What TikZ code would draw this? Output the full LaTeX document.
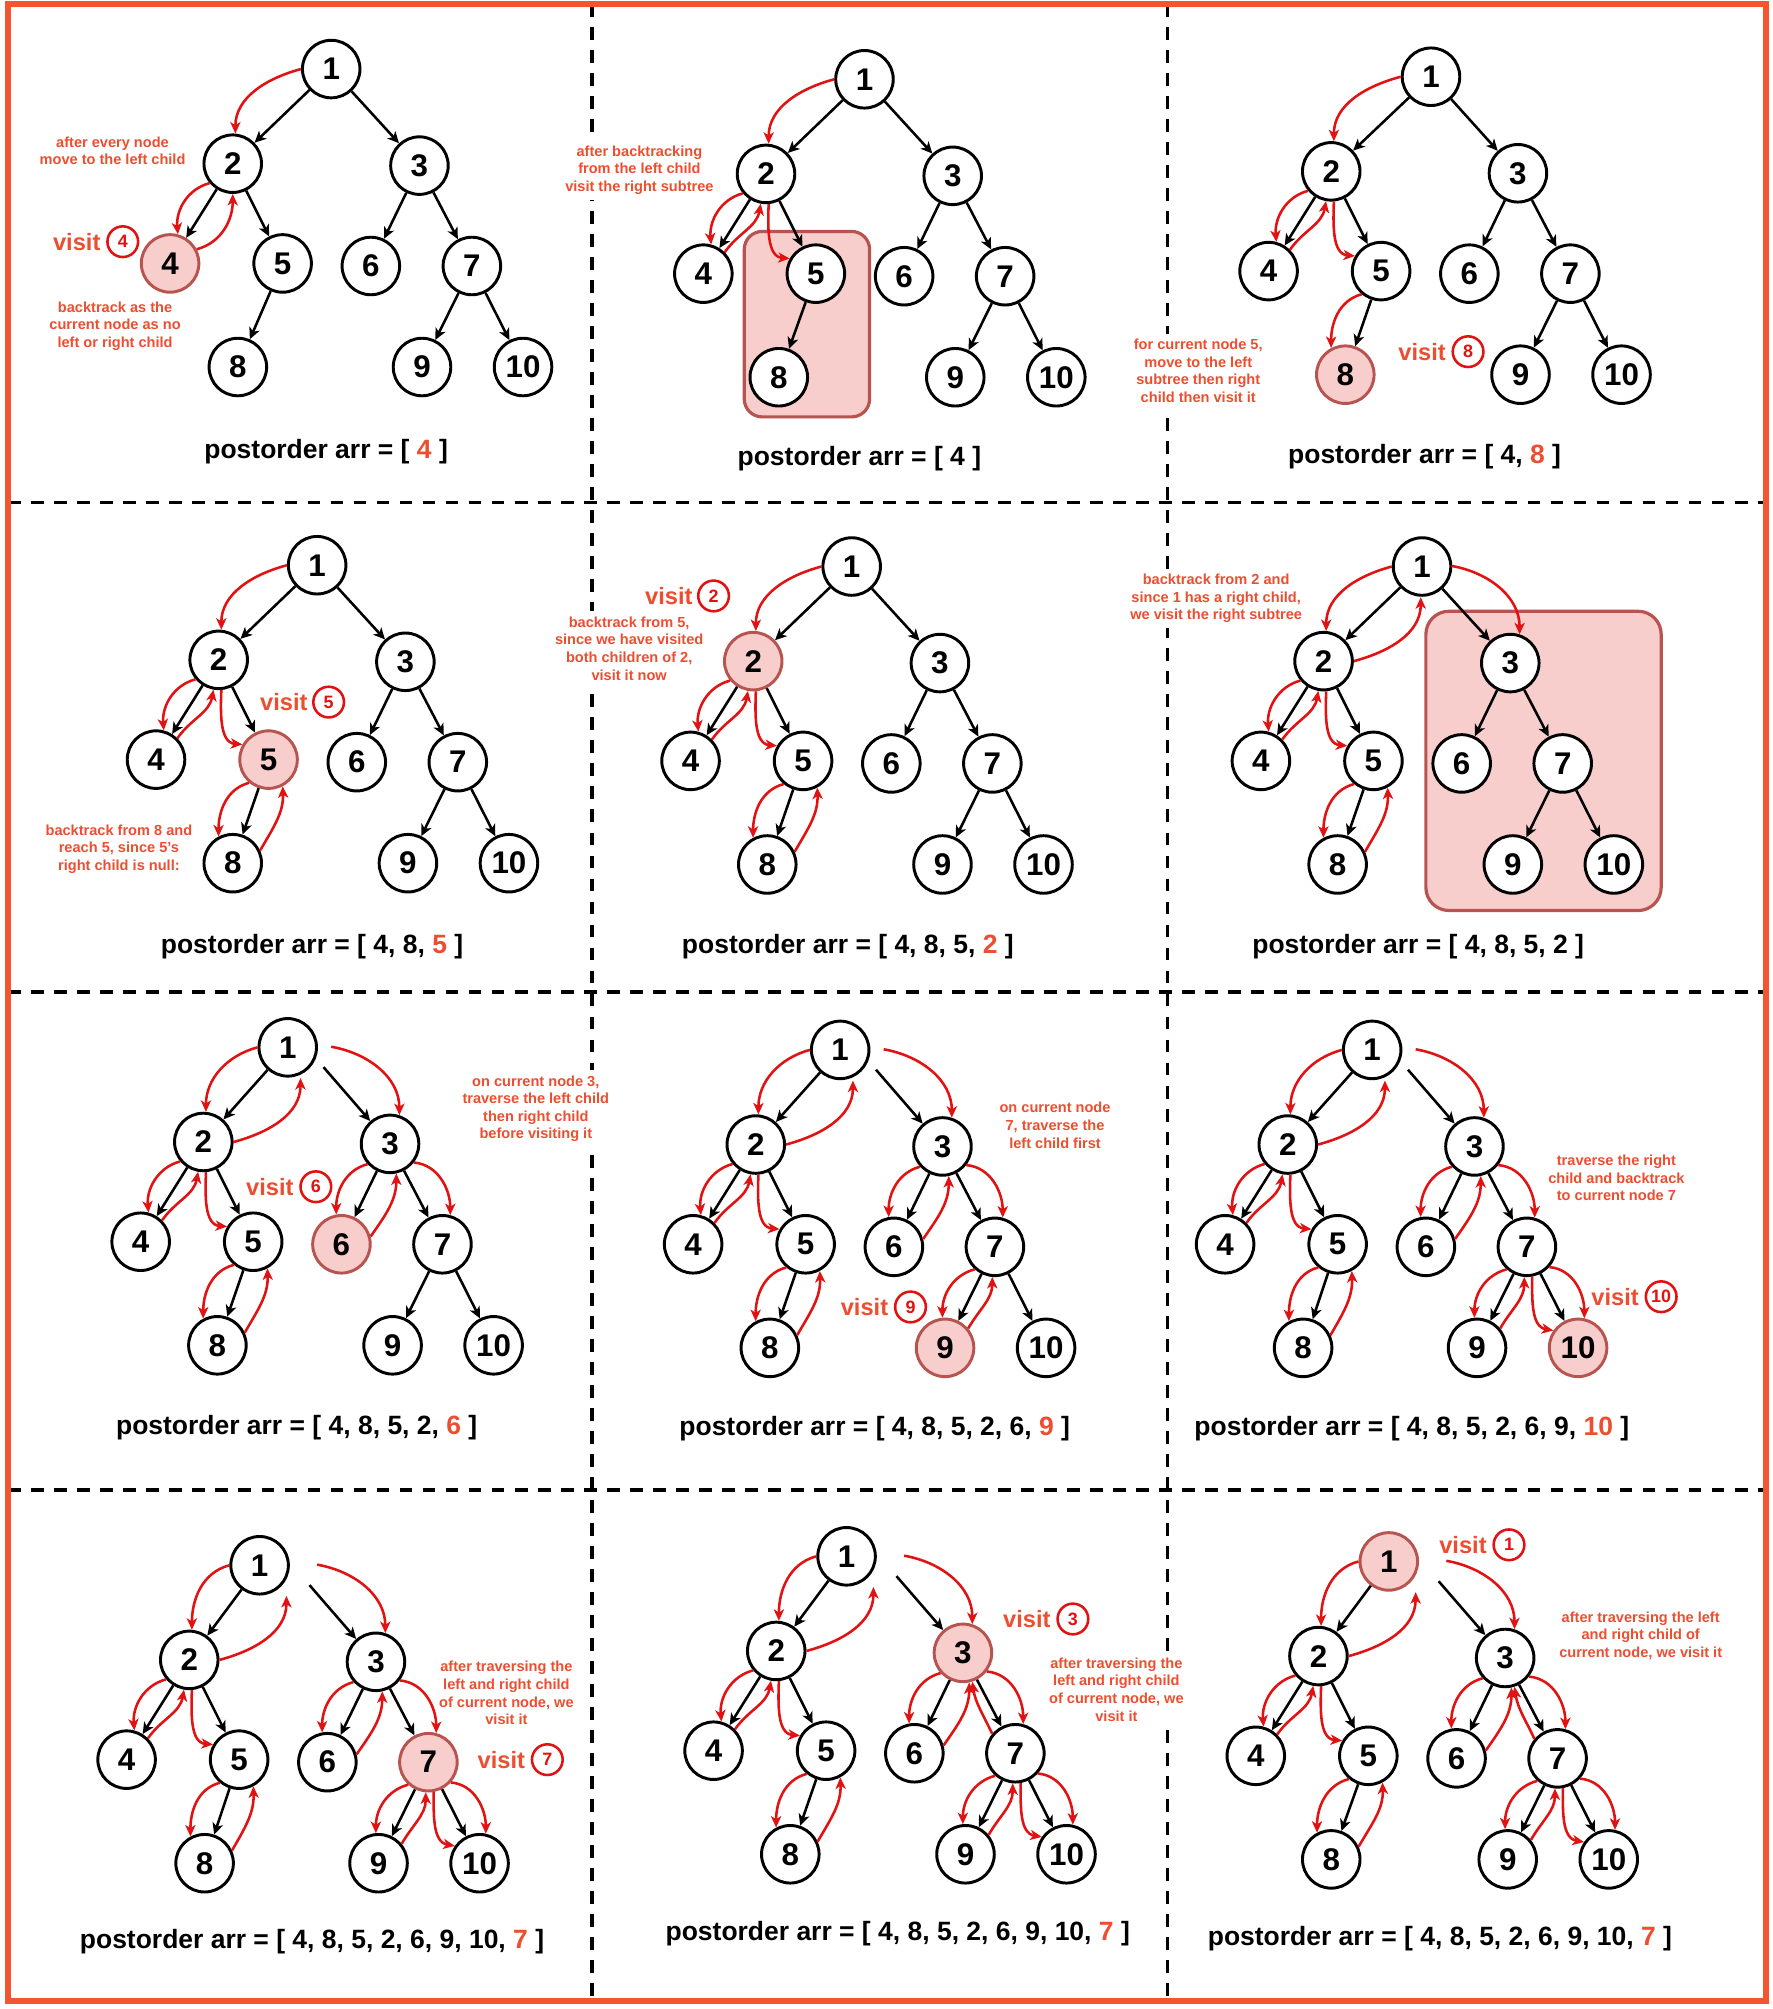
\documentclass[tikz,border=0pt]{standalone}
\usepackage{fontspec}
\setmainfont{Liberation Sans}
\usetikzlibrary{arrows.meta,calc}
\definecolor{accent}{RGB}{238,78,48}
\definecolor{rline}{RGB}{226,18,18}
\definecolor{framec}{RGB}{246,84,46}
\definecolor{pinkfill}{RGB}{248,206,204}
\definecolor{pinkdraw}{RGB}{184,84,80}
\tikzset{
 tn/.style={circle, draw=black, line width=2.3pt, fill=white, minimum size=45pt, inner sep=0pt, font=\bfseries\fontsize{24.5}{24.5}\selectfont},
 vis/.style={fill=pinkfill, draw=pinkdraw},
 n1/.style={}, n2/.style={}, n3/.style={}, n4/.style={}, n5/.style={},
 n6/.style={}, n7/.style={}, n8/.style={}, n9/.style={}, n10/.style={},
 bk/.style={draw=black, line width=2pt, -{Stealth[length=9pt,width=8.5pt,inset=2.5pt]}},
 ra/.style={draw=rline, line width=2pt, -{Stealth[length=9pt,width=8pt,inset=2.5pt]}},
 ann/.style={text=accent, fill=white, align=center, font=\bfseries\fontsize{11.4}{13.8}\selectfont, inner sep=4pt},
 vword/.style={text=accent, font=\bfseries\fontsize{18.5}{18.5}\selectfont, inner sep=0pt},
 vcirc/.style={circle, draw=rline, line width=2pt, minimum size=24pt, inner sep=0pt, text=rline, font=\bfseries\fontsize{14}{14}\selectfont},
 ttl/.style={font=\bfseries\fontsize{20.7}{20.7}\selectfont, inner sep=0pt},
 hlrect/.style={fill=pinkfill, draw=pinkdraw, line width=2.5pt, rounded corners=14pt},
 divider/.style={draw=black, line width=3pt, dash pattern=on 10pt off 8pt},
 frameline/.style={draw=framec, line width=4.5pt},
}
\newcommand\drawtree[6]{%
 \node[tn,n1] (#1-1) at (#2+#4,#3+74) {1};
 \node[tn,n2] (#1-2) at (#2,#3) {2};
 \node[tn,n3] (#1-3) at (#2+146,#3-1.5) {3};
 \node[tn,n4] (#1-4) at (#2-49,#3-78) {4};
 \node[tn,n5] (#1-5) at (#2+39,#3-78) {5};
 \node[tn,n6] (#1-6) at (#2+108,#3-80) {6};
 \node[tn,n7] (#1-7) at (#2+187,#3-80) {7};
 \node[tn,n8] (#1-8) at (#2+#5,#3-159) {8};
 \node[tn,n9] (#1-9) at (#2+148,#3-159) {9};
 \node[tn,n10] (#1-10) at (#2+227,#3-159) {10};
 \draw[bk] (#1-1) -- (#1-2);
 \ifnum#6=1
   \coordinate (#1-s) at ($(#1-3)+(-52,60)$);
   \draw[bk] (#1-s) -- (#1-3);
 \else
   \draw[bk] (#1-1) -- (#1-3);
 \fi
 \draw[bk] (#1-2) -- (#1-4);
 \draw[bk] (#1-2) -- (#1-5);
 \draw[bk] (#1-3) -- (#1-6);
 \draw[bk] (#1-3) -- (#1-7);
 \draw[bk] (#1-5) -- (#1-8);
 \draw[bk] (#1-7) -- (#1-9);
 \draw[bk] (#1-7) -- (#1-10);
}
\newcommand\arcA[1]{\draw[ra] (#1-1.west) to[out=195,in=90] (#1-2.85);}
\newcommand\arcB[1]{\coordinate (#1-b) at ($(#1-2)+(76,50)$);\draw[ra] (#1-2.east) to[out=15,in=-90] (#1-b);}
\newcommand\arcC[1]{\coordinate (#1-c) at ($(#1-3)+(-46,76)$);\draw[ra] (#1-c) to[out=-10,in=90] (#1-3.72);}
\newcommand\arcD[1]{\draw[ra] (#1-2.220) to[out=195,in=95] (#1-4.75);}
\newcommand\arcE[1]{\draw[ra] (#1-4.45) to[out=55,in=-100] (#1-2.-100);}
\newcommand\arcEw[1]{\draw[ra] (#1-4.28) to[out=15,in=-90] (#1-2.-90);}
\newcommand\arcF[1]{\draw[ra] (#1-2.-85) to[out=-92,in=175] (#1-5.150);}
\newcommand\arcG[1]{\draw[ra] (#1-5.230) to[out=195,in=90] (#1-8.118);}
\newcommand\arcH[1]{\draw[ra] (#1-8.25) to[out=60,in=-88] (#1-5.-62);}
\newcommand\arcI[1]{\draw[ra] (#1-3.222) to[out=195,in=90] (#1-6.100);}
\newcommand\arcJ[1]{\draw[ra] (#1-6.15) to[out=55,in=-90] (#1-3.-78);}
\newcommand\arcK[1]{\draw[ra] (#1-3.-38) to[out=-5,in=90] (#1-7.75);}
\newcommand\arcL[1]{\draw[ra] (#1-7.228) to[out=195,in=90] (#1-9.95);}
\newcommand\arcM[1]{\draw[ra] (#1-9.40) to[out=60,in=-90] (#1-7.-95);}
\newcommand\arcN[1]{\draw[ra] (#1-7.-80) to[out=-90,in=170] (#1-10.145);}
\newcommand\arcO[1]{\draw[ra] (#1-7.-42) to[out=-5,in=90] (#1-10.78);}
\newcommand\arcP[1]{\draw[ra] (#1-7.140) to[out=115,in=-82] (#1-3.-72);}
\newcommand\basearcs[1]{\arcA{#1}\arcD{#1}\arcE{#1}\arcF{#1}\arcG{#1}\arcH{#1}}
\newcommand\fullarcs[1]{\basearcs{#1}\arcB{#1}\arcC{#1}\arcI{#1}\arcJ{#1}\arcK{#1}}
\begin{document}
\begin{tikzpicture}[x=1pt,y=1pt]
\useasboundingbox (0,0) rectangle (1386,-1571);
\fill[white] (0,0) rectangle (1386,-1571);
% dividers
\draw[divider] (463,-3) -- (463,-1565);
\draw[divider] (913,-3) -- (913,-1565);
\draw[divider] (6.5,-393) -- (1381,-393);
\draw[divider] (6.5,-776) -- (1381,-776);
\draw[divider] (6.5,-1165) -- (1381,-1165);

% annotations (white background hides the dividers behind them)
\node[ann] (a-t1) at (88,-118) {after every node\\move to the left child};
\node[ann] (a-t2) at (90,-255) {backtrack as the\\current node as no\\left or right child};
\node[ann] (b-t1) at (500,-133) {after backtracking\\from the left child\\visit the right subtree};
\node[ann] (c-t1) at (937,-290) {for current node 5,\\move to the left\\subtree then right\\child then visit it};
\node[ann] (d-t1) at (93,-664) {backtrack from 8 and\\reach 5, since 5's\\right child is null:};
\node[ann] (e-t1) at (492,-507) {backtrack from 5,\\since we have visited\\both children of 2,\\visit it now};
\node[ann] (f-t1) at (951,-468) {backtrack from 2 and\\since 1 has a right child,\\we visit the right subtree};
\node[ann] (g-t1) at (419,-867) {on current node 3,\\traverse the left child\\then right child\\before visiting it};
\node[ann] (h-t1) at (825,-880) {on current node\\7, traverse the\\left child first};
\node[ann] (i-t1) at (1264,-921) {traverse the right\\child and backtrack\\to current node 7};
\node[ann] (j-t1) at (396,-1324) {after traversing the\\left and right child\\of current node, we\\visit it};
\node[ann] (k-t1) at (873,-1321) {after traversing the\\left and right child\\of current node, we\\visit it};
\node[ann] (l-t1) at (1283,-1279) {after traversing the left\\and right child of\\current node, we visit it};

% ---------- Panel 1
\begin{scope}[n4/.style={vis}]
\drawtree{a}{182}{-128}{77}{4}{0}
\end{scope}
\arcA{a}\arcD{a}\arcEw{a}
\node[vword] (a-v) at (60,-189) {visit};
\node[vcirc] (a-c) at (96,-189) {4};
\node[ttl] (a-title) at (255,-353) {postorder arr = [ \textcolor{accent}{4} ]};

% ---------- Panel 2
\draw[hlrect] (582,-181) rectangle (680,-326);
\drawtree{b}{599}{-136}{77}{10}{0}
\arcA{b}\arcD{b}\arcE{b}\arcF{b}
\node[ttl] (b-title) at (672,-359) {postorder arr = [ 4 ]};

% ---------- Panel 3
\begin{scope}[n8/.style={vis}]
\drawtree{c}{1041}{-134}{78}{11}{0}
\end{scope}
\arcA{c}\arcD{c}\arcE{c}\arcF{c}\arcG{c}
\node[vword] (c-v) at (1112,-275) {visit};
\node[vcirc] (c-c) at (1148,-275) {8};
\node[ttl] (c-title) at (1114,-357) {postorder arr = [ 4, \textcolor{accent}{8} ]};

% ---------- Panel 4
\begin{scope}[n5/.style={vis}]
\drawtree{d}{171}{-516}{77}{11}{0}
\end{scope}
\basearcs{d}
\node[vword] (d-v) at (222,-549) {visit};
\node[vcirc] (d-c) at (257,-549) {5};
\node[ttl] (d-title) at (244,-740) {postorder arr = [ 4, 8, \textcolor{accent}{5} ]};

% ---------- Panel 5
\begin{scope}[n2/.style={vis}]
\drawtree{e}{589}{-517}{77}{11}{0}
\end{scope}
\basearcs{e}
\node[vword] (e-v) at (523,-466) {visit};
\node[vcirc] (e-c) at (558,-466) {2};
\node[ttl] (e-title) at (663,-740) {postorder arr = [ 4, 8, 5, \textcolor{accent}{2} ]};

% ---------- Panel 6
\draw[hlrect, rounded corners=18pt] (1115,-478) rectangle (1299,-712);
\drawtree{f}{1035}{-517}{77}{11}{0}
\basearcs{f}\arcB{f}\arcC{f}
\node[ttl] (f-title) at (1109,-740) {postorder arr = [ 4, 8, 5, 2 ]};

% ---------- Panel 7
\begin{scope}[n6/.style={vis}]
\drawtree{g}{159}{-893}{66}{11}{1}
\end{scope}
\fullarcs{g}
\node[vword] (g-v) at (211,-928) {visit};
\node[vcirc] (g-c) at (247,-928) {6};
\node[ttl] (g-title) at (232,-1116) {postorder arr = [ 4, 8, 5, 2, \textcolor{accent}{6} ]};

% ---------- Panel 8
\begin{scope}[n9/.style={vis}]
\drawtree{h}{591}{-895}{66}{11}{1}
\end{scope}
\fullarcs{h}\arcL{h}\arcM{h}
\node[vword] (h-v) at (676,-1022) {visit};
\node[vcirc] (h-c) at (712,-1022) {9};
\node[ttl] (h-title) at (684,-1117) {postorder arr = [ 4, 8, 5, 2, 6, \textcolor{accent}{9} ]};

% ---------- Panel 9
\begin{scope}[n10/.style={vis}]
\drawtree{i}{1007}{-895}{66}{12}{1}
\end{scope}
\fullarcs{i}\arcL{i}\arcM{i}\arcN{i}\arcO{i}
\node[vword] (i-v) at (1263,-1014) {visit};
\node[vcirc] (i-c) at (1299,-1014) {10};
\node[ttl] (i-title) at (1104,-1117) {postorder arr = [ 4, 8, 5, 2, 6, 9, \textcolor{accent}{10} ]};

% ---------- Panel 10
\begin{scope}[n7/.style={vis}]
\drawtree{j}{148}{-1298}{55}{12}{1}
\end{scope}
\fullarcs{j}\arcL{j}\arcM{j}\arcN{j}\arcO{j}
\node[vword] (j-v) at (392,-1376) {visit};
\node[vcirc] (j-c) at (428,-1376) {7};
\node[ttl] (j-title) at (244,-1518) {postorder arr = [ 4, 8, 5, 2, 6, 9, 10, \textcolor{accent}{7} ]};

% ---------- Panel 11
\begin{scope}[n3/.style={vis}]
\drawtree{k}{607}{-1291}{55}{11}{1}
\end{scope}
\fullarcs{k}\arcL{k}\arcM{k}\arcN{k}\arcO{k}\arcP{k}
\node[vword] (k-v) at (803,-1266) {visit};
\node[vcirc] (k-c) at (839,-1266) {3};
\node[ttl] (k-title) at (702,-1512) {postorder arr = [ 4, 8, 5, 2, 6, 9, 10, \textcolor{accent}{7} ]};

% ---------- Panel 12
\begin{scope}[n1/.style={vis}]
\drawtree{l}{1031}{-1295}{55}{10}{1}
\end{scope}
\fullarcs{l}\arcL{l}\arcM{l}\arcN{l}\arcO{l}\arcP{l}
\node[vword] (l-v) at (1144,-1208) {visit};
\node[vcirc] (l-c) at (1180,-1208) {1};
\node[ttl] (l-title) at (1126,-1516) {postorder arr = [ 4, 8, 5, 2, 6, 9, 10, \textcolor{accent}{7} ]};

% outer frame
\draw[frameline] (6.5,-3) rectangle (1381,-1565);
\end{tikzpicture}
\end{document}
